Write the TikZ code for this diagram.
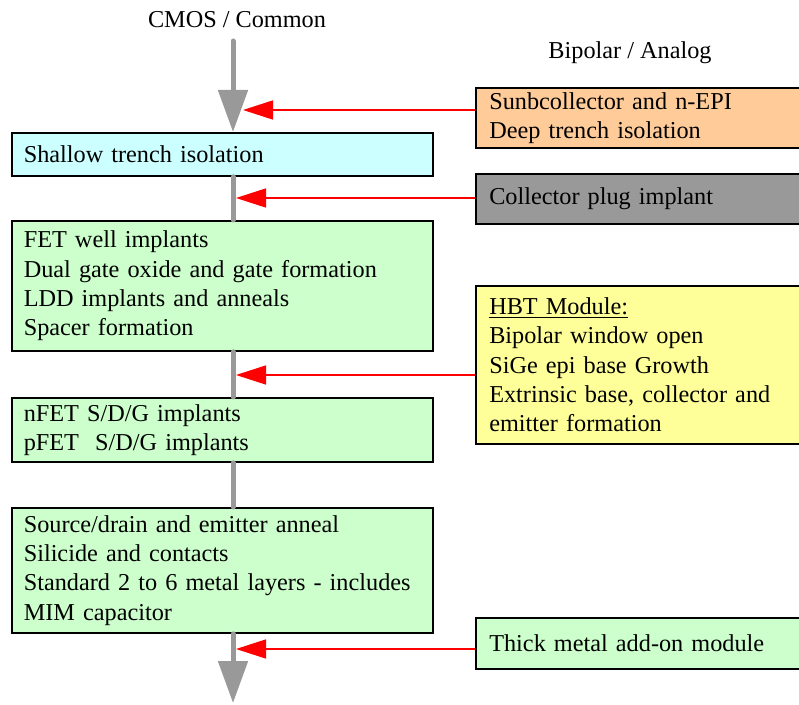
\documentclass[tikz,border=0pt]{standalone}
\usepackage{fontspec}
\setmainfont{Liberation Serif}
\usepackage{tikz}
\usetikzlibrary{arrows.meta,positioning}
\usepackage{xcolor}
\definecolor{sticyan}{HTML}{CCFFFF}
\definecolor{fetgreen}{HTML}{CCFFCC}
\definecolor{bporange}{HTML}{FFCC99}
\definecolor{bpgray}{HTML}{999999}
\definecolor{bpyellow}{HTML}{FFFF99}
\definecolor{trunk}{HTML}{999999}

\begin{document}
\begin{tikzpicture}[x=0.75pt,y=-0.75pt,
every node/.style={font=\fontsize{18.2}{22}\selectfont,inner sep=0pt},
stepbox/.style={draw,line width=1.4pt,anchor=north west,minimum width=315.75pt,text width=298pt,align=left,inner xsep=8.875pt},
sidebox/.style={stepbox,minimum width=270pt,text width=250pt},
flow/.style={draw=trunk,line width=3.75pt,line cap=round},
feed/.style={draw=red,line width=1.2pt,-{Triangle[length=22.5pt,width=14.25pt]}}]
\useasboundingbox (0,0) rectangle (799,705);
% headings of the two columns
\node (cmos) at (237,20) {CMOS / Common};
\node (bip) at (630,53) {Bipolar / Analog};
% common CMOS flow
\node[stepbox,fill=sticyan,minimum height=32.25pt] (sti) at (11,132) {Shallow trench isolation};
\node[stepbox,fill=fetgreen,minimum height=97.5pt] (well) at (11,220) {FET well implants\\Dual gate oxide and gate formation\\LDD implants and anneals\\Spacer formation};
\node[stepbox,fill=fetgreen,minimum height=48pt] (sdg) at (11,397) {nFET S/D/G implants\\pFET\ \ S/D/G implants};
\node[stepbox,fill=fetgreen,minimum height=93.75pt] (beol) at (11,507) {Source/drain and emitter anneal\\Silicide and contacts\\Standard 2 to 6 metal layers - includes\\MIM capacitor};
% bipolar add-ons
\node[sidebox,fill=bporange,minimum height=45pt] (subc) at (475,87) {Sunbcollector and n-EPI\\Deep trench isolation};
\node[sidebox,fill=bpgray,minimum height=37.5pt] (plug) at (475,173) {Collector plug implant};
\node[sidebox,fill=bpyellow,minimum height=118.5pt] (hbt) at (475,285) {\underline{HBT Module:}\\Bipolar window open\\SiGe epi base Growth\\Extrinsic base, collector and\\emitter formation};
\node[sidebox,fill=fetgreen,minimum height=38.25pt] (thick) at (475,617) {Thick metal add-on module};
% trunk
\coordinate (top) at (233,41);
\coordinate (bot) at (233,703);
\draw[flow,-{Triangle[length=31.5pt,width=21.75pt]}] (top) -- (top |- sti.north);
\draw[flow] (top |- sti.south) -- (top |- well.north);
\draw[flow] (top |- well.south) -- (top |- sdg.north);
\draw[flow] (top |- sdg.south) -- (top |- beol.north);
\draw[flow,-{Triangle[length=31.5pt,width=21.75pt]}] (top |- beol.south) -- (bot);
% insertion points
\coordinate (j1) at (243,110);
\coordinate (j2) at (236,198);
\coordinate (j3) at (236,375);
\coordinate (j4) at (236,649);
\draw[feed] (subc.west |- j1) -- (j1);
\draw[feed] (plug.west |- j2) -- (j2);
\draw[feed] (hbt.west |- j3) -- (j3);
\draw[feed] (thick.west |- j4) -- (j4);
\end{tikzpicture}
\end{document}
